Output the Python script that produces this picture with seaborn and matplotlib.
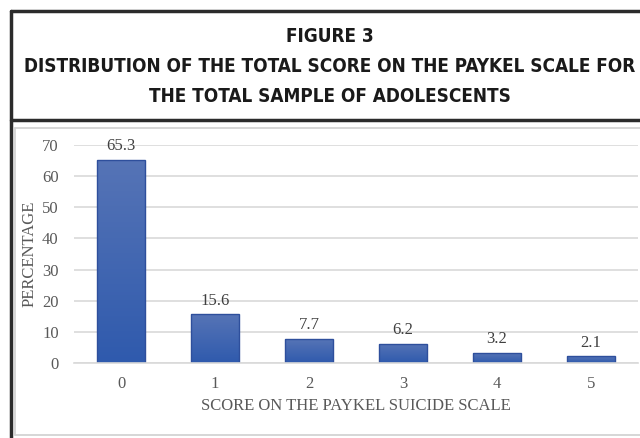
import numpy as np
import pandas as pd
import seaborn as sns
import matplotlib.pyplot as plt
from matplotlib.lines import Line2D

# data
scores = ["0", "1", "2", "3", "4", "5"]
percentages = [65.3, 15.6, 7.7, 6.2, 3.2, 2.1]

title_lines = ["FIGURE 3",
               "DISTRIBUTION OF THE TOTAL SCORE ON THE PAYKEL SCALE FOR",
               "THE TOTAL SAMPLE OF ADOLESCENTS"]

sns.set_theme(style="white")
plt.rcParams["font.family"] = ["Liberation Serif", "DejaVu Serif"]

W, H = 640, 438
fig = plt.figure(figsize=(W / 100, H / 100), dpi=100)


def fx(px):
    return px / W


def fy(py):
    return 1 - py / H


ax = fig.add_axes([fx(74), fy(363), fx(638) - fx(74), fy(145) - fy(363)])

df = pd.DataFrame({"score": scores, "pct": percentages})
sns.barplot(data=df, x="score", y="pct", ax=ax, width=0.51,
            color="#4468b0", edgecolor="#2e4f9c", linewidth=1.0)

# vertical gradient fill in each bar
grad = np.linspace(0, 1, 256).reshape(-1, 1)
cmap = sns.blend_palette(["#2f5aad", "#5674b6"], as_cmap=True)
for patch in ax.patches:
    x0, y0 = patch.get_x(), patch.get_y()
    w, h = patch.get_width(), patch.get_height()
    im = ax.imshow(grad, cmap=cmap, aspect="auto", origin="lower",
                   extent=[x0, x0 + w, y0, y0 + h], zorder=patch.get_zorder())
    im.set_clip_path(patch)
    patch.set_facecolor("none")
    patch.set_zorder(patch.get_zorder() + 0.1)

ax.set_xlim(-0.5, 5.5)
ax.set_ylim(0, 70)
ax.set_yticks(range(0, 71, 10))
ax.grid(axis="y", color="#d9d9d9", linewidth=1.2)
ax.set_axisbelow(True)
for s in ["top", "right", "left"]:
    ax.spines[s].set_visible(False)
ax.spines["bottom"].set_color("#d9d9d9")
ax.spines["bottom"].set_linewidth(1.2)
ax.tick_params(length=0, labelsize=12, labelcolor="#595959")
ax.tick_params(axis="y", pad=11)
ax.tick_params(axis="x", pad=9)
ax.set_xlabel("SCORE ON THE PAYKEL SUICIDE SCALE", fontsize=12,
              color="#595959", labelpad=5)
ax.set_ylabel("PERCENTAGE", fontsize=12, color="#595959", labelpad=3)

for i, v in enumerate(percentages):
    ax.annotate(f"{v:.1f}", (i, v), xytext=(0, 4), textcoords="offset points",
                ha="center", va="bottom", fontsize=12, color="#404040",
                annotation_clip=False)

# frame around the figure
dark = "#2b2b2b"
fig.add_artist(Line2D([fx(11), fx(11)], [fy(11), 0], color=dark, lw=2.5))
fig.add_artist(Line2D([fx(11), 1], [fy(11), fy(11)], color=dark, lw=2.5))
fig.add_artist(Line2D([fx(11), 1], [fy(120), fy(120)], color=dark, lw=2.5))
fig.add_artist(Line2D([fx(15), 1], [fy(127.5), fy(127.5)], color="#d0d0d0",
                      lw=1.2))
fig.add_artist(Line2D([fx(15), fx(15)], [fy(127.5), fy(435)], color="#d0d0d0",
                      lw=1.2))
fig.add_artist(Line2D([fx(15), 1], [fy(435), fy(435)], color="#d0d0d0",
                      lw=1.2))

title_font = ["DejaVu Sans"]
for text, py in zip(title_lines, [37, 66, 97]):
    fig.text(fx(330), fy(py), text, ha="center", va="center",
             fontsize=13.6, fontweight="bold", fontstretch="condensed",
             family=title_font, color="#1a1a1a")

fig.savefig("out.png", dpi=100)
